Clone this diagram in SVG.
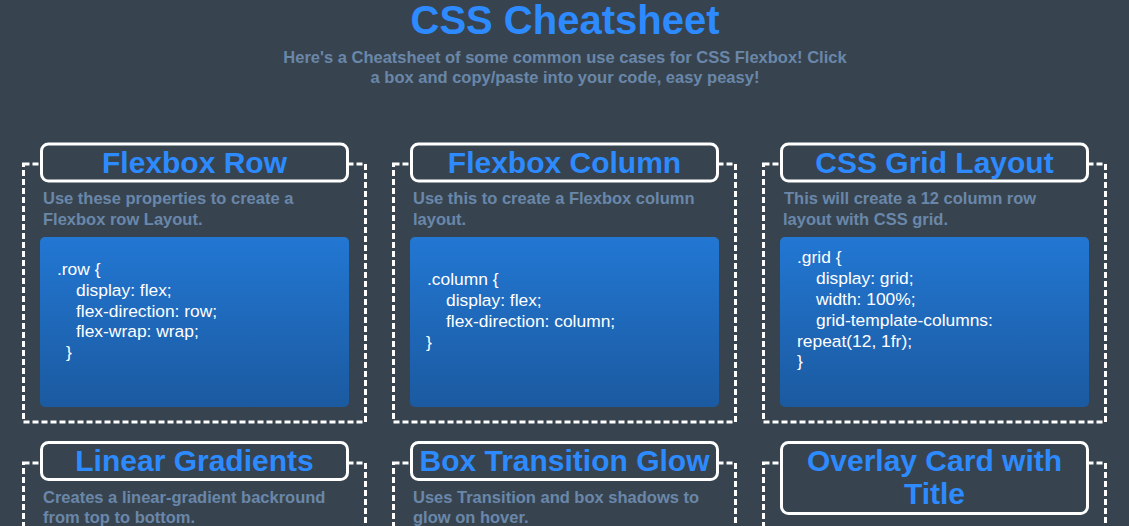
<svg xmlns="http://www.w3.org/2000/svg" width="1129" height="526" viewBox="0 0 1129 526">
<defs>
<linearGradient id="codeGrad" x1="0" y1="0" x2="0" y2="1">
<stop offset="0" stop-color="#2277d3"/>
<stop offset="1" stop-color="#1b5aa0"/>
</linearGradient>
<style>
.card{fill:none;stroke:#ffffff;stroke-width:3;stroke-dasharray:6 3}
.tbox{fill:#37444f;stroke:#ffffff;stroke-width:3}
.ttl{font-family:"Liberation Sans",Arial,sans-serif;font-weight:bold;font-size:30px;fill:#2d8bff;text-anchor:middle}
.desc{font-family:"Liberation Sans",Arial,sans-serif;font-weight:bold;font-size:16.5px;fill:#6a87aa}
.code{fill:url(#codeGrad)}
.ct{font-family:"Liberation Sans",Arial,sans-serif;font-size:17.4px;fill:#ffffff}
</style>
</defs>
<rect x="0" y="0" width="1129" height="526" fill="#37444f"/>
<g id="header">
<text x="565" y="34" font-family="'Liberation Sans',Arial,sans-serif" font-weight="bold" font-size="40" fill="#2d8bff" text-anchor="middle">CSS Cheatsheet</text>
<text x="565" y="63" class="desc" text-anchor="middle">Here's a Cheatsheet of some common use cases for CSS Flexbox! Click</text>
<text x="565" y="83" class="desc" text-anchor="middle">a box and copy/paste into your code, easy peasy!</text>
</g>
<g id="card-flexbox-row">
<rect class="card" x="23.5" y="164" width="342" height="258"/>
<rect class="tbox" x="41.5" y="144" width="306" height="37" rx="7"/>
<text class="ttl" x="194.5" y="173">Flexbox Row</text>
<text class="desc" x="43" y="204">Use these properties to create a</text>
<text class="desc" x="43" y="225">Flexbox row Layout.</text>
<rect class="code" x="40" y="237" width="309" height="170" rx="5"/>
<text class="ct" x="57" y="275">.row {</text>
<text class="ct" x="76" y="296">display: flex;</text>
<text class="ct" x="76" y="317">flex-direction: row;</text>
<text class="ct" x="76" y="337">flex-wrap: wrap;</text>
<text class="ct" x="66" y="358">}</text>
</g>
<g id="card-flexbox-column">
<rect class="card" x="393.5" y="164" width="342" height="258"/>
<rect class="tbox" x="411.5" y="144" width="306" height="37" rx="7"/>
<text class="ttl" x="564.5" y="173">Flexbox Column</text>
<text class="desc" x="413" y="204">Use this to create a Flexbox column</text>
<text class="desc" x="413" y="225">layout.</text>
<rect class="code" x="410" y="237" width="309" height="170" rx="5"/>
<text class="ct" x="427" y="285">.column {</text>
<text class="ct" x="446" y="306">display: flex;</text>
<text class="ct" x="446" y="327">flex-direction: column;</text>
<text class="ct" x="426" y="348">}</text>
</g>
<g id="card-css-grid">
<rect class="card" x="763.5" y="164" width="342" height="258"/>
<rect class="tbox" x="781.5" y="144" width="306" height="37" rx="7"/>
<text class="ttl" x="934.5" y="173">CSS Grid Layout</text>
<text class="desc" x="784" y="204">This will create a 12 column row</text>
<text class="desc" x="783" y="225">layout with CSS grid.</text>
<rect class="code" x="780" y="237" width="309" height="170" rx="5"/>
<text class="ct" x="797" y="263">.grid {</text>
<text class="ct" x="816" y="284">display: grid;</text>
<text class="ct" x="816" y="305">width: 100%;</text>
<text class="ct" x="816" y="326">grid-template-columns:</text>
<text class="ct" x="797" y="347">repeat(12, 1fr);</text>
<text class="ct" x="797" y="367">}</text>
</g>
<g id="card-linear-gradients">
<rect class="card" x="23.5" y="463" width="342" height="100"/>
<rect class="tbox" x="41.5" y="442.5" width="306" height="37" rx="7"/>
<text class="ttl" x="194.5" y="471">Linear Gradients</text>
<text class="desc" x="43" y="503">Creates a linear-gradient backround</text>
<text class="desc" x="43" y="523">from top to bottom.</text>
</g>
<g id="card-box-transition-glow">
<rect class="card" x="393.5" y="463" width="342" height="100"/>
<rect class="tbox" x="411.5" y="442.5" width="306" height="37" rx="7"/>
<text class="ttl" x="564.5" y="471">Box Transition Glow</text>
<text class="desc" x="413" y="503">Uses Transition and box shadows to</text>
<text class="desc" x="413" y="523">glow on hover.</text>
</g>
<g id="card-overlay">
<rect class="card" x="763.5" y="463" width="342" height="100"/>
<rect class="tbox" x="781.5" y="442.5" width="306" height="71" rx="7"/>
<text class="ttl" x="934.5" y="471">Overlay Card with</text>
<text class="ttl" x="934.5" y="504">Title</text>
</g>
<g id="connectors"/>
</svg>
